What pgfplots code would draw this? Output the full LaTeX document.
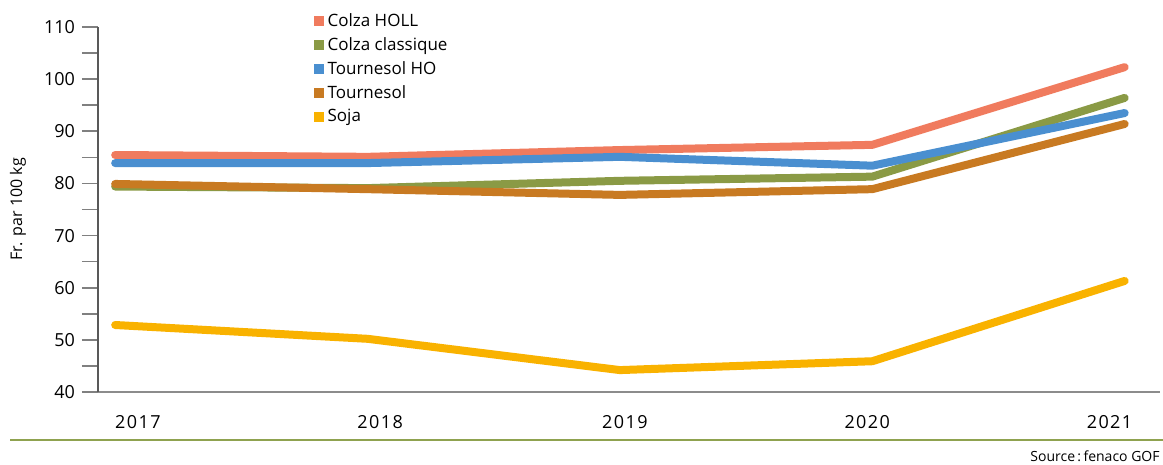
\documentclass[border=0pt]{standalone}
\usepackage{fontspec}
\setmainfont{Open Sans}
\newfontfamily\spaced[LetterSpace=8]{Open Sans}
\usepackage{pgfplots}
\pgfplotsset{compat=1.18}
\definecolor{cHOLL}{HTML}{F07B5E}
\definecolor{cClass}{HTML}{8A9A45}
\definecolor{cTHO}{HTML}{4A8FD0}
\definecolor{cTour}{HTML}{C87A22}
\definecolor{cSoja}{HTML}{F9B200}
\definecolor{rule}{HTML}{8FA24F}
\begin{document}
\begin{tikzpicture}
\path[use as bounding box] (0,0) rectangle (581.5pt,232.5pt);
\begin{axis}[
  at={(49pt,36.5pt)}, anchor=south west,
  scale only axis, width=531pt, height=182.5pt,
  xmin=-0.068, xmax=4.14, ymin=40, ymax=110,
  axis x line=bottom, axis y line=left,
  x axis line style={-, draw=black!45, line width=0.8pt},
  y axis line style={-, draw=black!65, line width=0.8pt},
  xtick={0.09,1.05,2.02,2.98,3.94},
  xticklabels={2017,2018,2019,2020,2021},
  x tick style={draw=none},
  x tick label style={yshift=0pt, font=\spaced\fontsize{9}{10}\selectfont},
  ytick={40,50,...,110},
  minor ytick={45,55,...,105},
  tick align=outside,
  major tick length=8pt, minor tick length=8pt,
  y tick style={draw=black!50, line width=0.8pt},
  y tick label style={font=\fontsize{9}{10}\selectfont},
  /pgf/number format/assume math mode=true,
  ylabel={Fr. par 100 kg},
  every axis y label/.style={at={(axis description cs:-0.0753,0.5)}, rotate=90, anchor=center, font=\fontsize{8}{9}\selectfont},
  legend cell align=left,
  legend style={draw=none, fill=none, at={(0.197,1.06)}, anchor=north west,
    font=\fontsize{8.5}{10}\selectfont, row sep=0pt},
  legend image code/.code={\fill[#1, draw=none] (0pt,-2.5pt) rectangle (5pt,2.5pt);},
  every axis plot/.append style={line width=4pt, line cap=round, line join=round},
  clip=false,
]
\addplot[cHOLL] coordinates {(0,85.45) (1,85.1) (2,86.4) (3,87.4) (4,102.3)};
\addlegendentry{Colza HOLL}
\addplot[cClass] coordinates {(0,79.4) (1,79.1) (2,80.5) (3,81.3) (4,96.4)};
\addlegendentry{Colza classique}
\addplot[cTHO] coordinates {(0,83.9) (1,83.9) (2,85.1) (3,83.4) (4,93.5)};
\addlegendentry{Tournesol HO}
\addplot[cTour] coordinates {(0,79.9) (1,78.9) (2,77.8) (3,78.9) (4,91.4)};
\addlegendentry{Tournesol}
\addplot[cSoja] coordinates {(0,52.85) (1,50.2) (2,44.2) (3,45.9) (4,61.3)};
\addlegendentry{Soja}
\end{axis}
\draw[rule, line width=1.3pt] (5pt,12.5pt) -- (581.5pt,12.5pt);
\node[anchor=base east, inner sep=0pt, font=\fontsize{7}{8}\selectfont] at (580pt,1.5pt) {Source\,:\,fenaco GOF};
\end{tikzpicture}
\end{document}
